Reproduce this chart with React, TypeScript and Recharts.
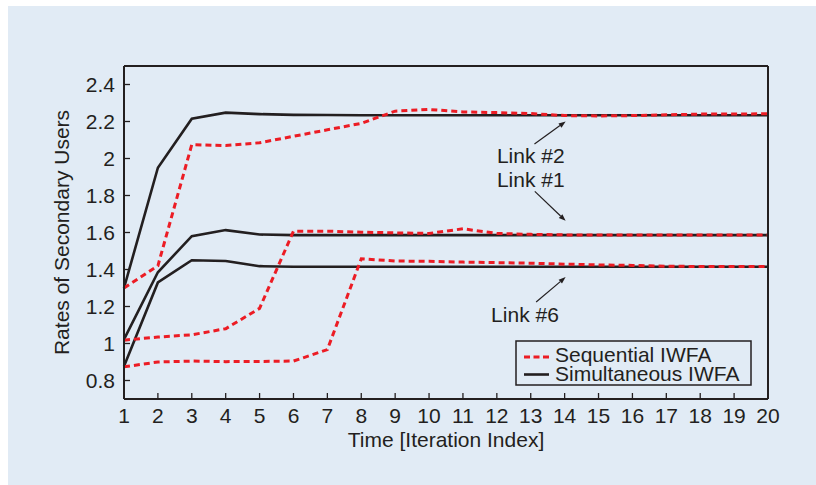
import { LineChart, Line, XAxis, YAxis, ReferenceLine, ReferenceDot, Legend } from "recharts";

const iterations = [1, 2, 3, 4, 5, 6, 7, 8, 9, 10, 11, 12, 13, 14, 15, 16, 17, 18, 19, 20];

// Link #2
const simLink2 = [1.3, 1.95, 2.215, 2.248, 2.24, 2.236, 2.235, 2.234, 2.234, 2.234, 2.234, 2.234, 2.234, 2.234, 2.234, 2.234, 2.234, 2.234, 2.234, 2.234];
const seqLink2 = [1.3, 1.42, 2.075, 2.07, 2.085, 2.12, 2.155, 2.19, 2.256, 2.265, 2.252, 2.248, 2.243, 2.232, 2.23, 2.232, 2.236, 2.24, 2.24, 2.242];
// Link #1
const simLink1 = [1.022, 1.385, 1.58, 1.613, 1.589, 1.586, 1.586, 1.586, 1.586, 1.586, 1.586, 1.586, 1.586, 1.586, 1.586, 1.586, 1.586, 1.586, 1.586, 1.586];
const seqLink1 = [1.018, 1.035, 1.047, 1.08, 1.19, 1.607, 1.607, 1.602, 1.598, 1.595, 1.62, 1.595, 1.59, 1.587, 1.587, 1.587, 1.587, 1.587, 1.587, 1.587];
// Link #6
const simLink6 = [0.877, 1.33, 1.45, 1.446, 1.418, 1.415, 1.415, 1.415, 1.415, 1.415, 1.415, 1.415, 1.415, 1.415, 1.415, 1.415, 1.415, 1.415, 1.415, 1.415];
const seqLink6 = [0.874, 0.9, 0.905, 0.902, 0.903, 0.905, 0.967, 1.458, 1.446, 1.444, 1.44, 1.437, 1.434, 1.429, 1.425, 1.422, 1.418, 1.416, 1.416, 1.416];

const yTicks = [0.8, 1, 1.2, 1.4, 1.6, 1.8, 2, 2.2, 2.4];

const data = iterations.map((t, i) => ({
  t,
  sim2: simLink2[i],
  seq2: seqLink2[i],
  sim1: simLink1[i],
  seq1: seqLink1[i],
  sim6: simLink6[i],
  seq6: seqLink6[i],
}));

// annotation text (x, baseline y) and arrows (from -> to), in data units
const linkLabels = [
  { text: "Link #2", x: 13.0, y: 1.978 },
  { text: "Link #1", x: 13.0, y: 1.845 },
  { text: "Link #6", x: 12.83, y: 1.116 },
];
const linkArrows = [
  { from: { x: 13.11, y: 2.078 }, to: { x: 14.03, y: 2.2 } },
  { from: { x: 13.12, y: 1.822 }, to: { x: 14.03, y: 1.663 } },
  { from: { x: 13.16, y: 1.224 }, to: { x: 14.03, y: 1.359 } },
];

const INK = "#231f20";
const RED = "#ec1c24";
const BG = "#e1ebf5";
const FONT = "'Liberation Sans', Arial, Helvetica, sans-serif";
const FS = 21;

const Arrow = (props: any) => {
  const { x1, y1, x2, y2 } = props;
  const ang = Math.atan2(y2 - y1, x2 - x1);
  const len = 7;
  const w = 2.6;
  const bx = x2 - len * Math.cos(ang);
  const by = y2 - len * Math.sin(ang);
  const px = -Math.sin(ang) * w;
  const py = Math.cos(ang) * w;
  return (
    <g>
      <line x1={x1} y1={y1} x2={bx} y2={by} stroke={INK} strokeWidth={1.2} />
      <polygon points={`${x2},${y2} ${bx + px},${by + py} ${bx - px},${by - py}`} fill={INK} />
    </g>
  );
};

const LegendBox = () => (
  <svg width={238} height={47} style={{ display: "block" }}>
    <rect x={1} y={1} width={235} height={44} fill={BG} stroke={INK} strokeWidth={1.5} />
    <line x1={9} y1={17} x2={34} y2={17} stroke={RED} strokeWidth={3} strokeDasharray="6 3.5" />
    <text x={40} y={22} fontFamily={FONT} fontSize={FS} fill={INK}>Sequential IWFA</text>
    <line x1={9} y1={34.5} x2={34} y2={34.5} stroke={INK} strokeWidth={2.6} />
    <text x={40} y={41} fontFamily={FONT} fontSize={FS} fill={INK}>Simultaneous IWFA</text>
  </svg>
);

const tickStyle = { fill: INK, fontSize: FS, fontFamily: FONT };

export default function App() {
  return (
    <div style={{ position: "fixed", left: 8, top: 6, width: 808, height: 479, background: BG }}>
      <LineChart width={808} height={479} data={data} margin={{ top: 0, right: 0, bottom: 0, left: 0 }}>
        <XAxis
          dataKey="t"
          type="number"
          domain={[1, 20]}
          ticks={iterations}
          height={86}
          tickSize={-6}
          tickMargin={15}
          tick={tickStyle}
          stroke={INK}
          axisLine={{ stroke: INK, strokeWidth: 2 }}
          tickLine={{ stroke: INK, strokeWidth: 1.3 }}
          label={{
            content: (p: any) => {
              const vb = p.viewBox;
              return (
                <text x={vb.x + vb.width / 2} y={vb.y + 48} textAnchor="middle" fontFamily={FONT} fontSize={FS} fill={INK}>
                  Time [Iteration Index]
                </text>
              );
            },
          }}
        />
        <XAxis
          xAxisId="top"
          orientation="top"
          dataKey="t"
          type="number"
          domain={[1, 20]}
          ticks={iterations}
          height={60}
          tickSize={-6}
          tick={false}
          axisLine={{ stroke: INK, strokeWidth: 2 }}
          tickLine={{ stroke: INK, strokeWidth: 1.3 }}
        />
        <YAxis
          type="number"
          domain={[0.7, 2.5]}
          ticks={yTicks}
          width={116}
          tickSize={-6}
          tickMargin={15}
          tick={tickStyle}
          tickFormatter={(v: number) => String(+v.toFixed(1))}
          axisLine={{ stroke: INK, strokeWidth: 2 }}
          tickLine={{ stroke: INK, strokeWidth: 1.3 }}
          label={{
            content: (p: any) => {
              const vb = p.viewBox;
              const cx = vb.x + 61;
              const cy = vb.y + vb.height / 2;
              return (
                <text x={cx} y={cy} transform={`rotate(-90 ${cx} ${cy})`} textAnchor="middle" fontFamily={FONT} fontSize={FS} fill={INK}>
                  Rates of Secondary Users
                </text>
              );
            },
          }}
        />
        <YAxis
          yAxisId="right"
          orientation="right"
          type="number"
          domain={[0.7, 2.5]}
          ticks={yTicks}
          width={48}
          tickSize={-6}
          tick={false}
          axisLine={{ stroke: INK, strokeWidth: 2 }}
          tickLine={{ stroke: INK, strokeWidth: 1.3 }}
        />
        <Legend
          layout="vertical"
          align="center"
          verticalAlign="middle"
          wrapperStyle={{ left: 507, top: 334, width: 240, height: 48 }}
          content={() => <LegendBox />}
        />
        <Line dataKey="sim2" stroke={INK} strokeWidth={2.6} dot={false} isAnimationActive={false} />
        <Line dataKey="sim1" stroke={INK} strokeWidth={2.6} dot={false} isAnimationActive={false} />
        <Line dataKey="sim6" stroke={INK} strokeWidth={2.6} dot={false} isAnimationActive={false} />
        <Line dataKey="seq2" stroke={RED} strokeWidth={3} strokeDasharray="6 4" dot={false} isAnimationActive={false} />
        <Line dataKey="seq1" stroke={RED} strokeWidth={3} strokeDasharray="6 4" dot={false} isAnimationActive={false} />
        <Line dataKey="seq6" stroke={RED} strokeWidth={3} strokeDasharray="6 4" dot={false} isAnimationActive={false} />
        {linkArrows.map((a, i) => (
          <ReferenceLine
            key={`arrow-${i}`}
            segment={[a.from, a.to]}
            shape={Arrow}
          />
        ))}
        {linkLabels.map((l) => (
          <ReferenceDot
            key={l.text}
            x={l.x}
            y={l.y}
            r={0}
            shape={(p: any) => (
              <text x={p.cx} y={p.cy} textAnchor="middle" fontFamily={FONT} fontSize={FS} fill={INK}>
                {l.text}
              </text>
            )}
          />
        ))}
      </LineChart>
    </div>
  );
}
